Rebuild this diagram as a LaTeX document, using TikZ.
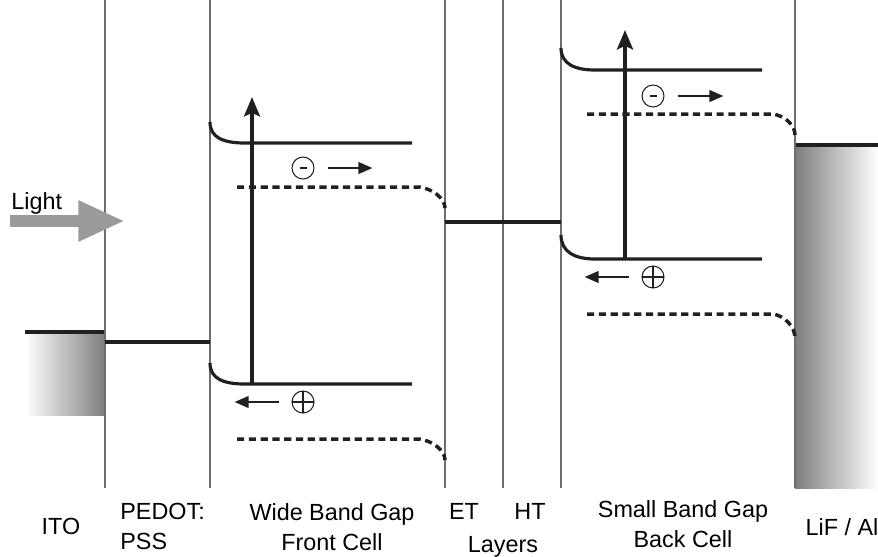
\documentclass[tikz,border=0pt]{standalone}
\usepackage{fontspec}
\setmainfont{Liberation Sans}
\usetikzlibrary{arrows.meta, positioning}
\definecolor{bandblack}{HTML}{231F20}
\definecolor{sepgray}{HTML}{6D6E71}
\definecolor{beamgray}{HTML}{9A9A9A}
\definecolor{contactgray}{HTML}{7D7E81}

\begin{document}
\begin{tikzpicture}[
    x=0.02cm, y=-0.02cm,
    sep/.style={sepgray, line width=0.6pt},
    band/.style={bandblack, line width=1.8pt},
    fermi/.style={bandblack, line width=2pt, dash pattern=on 4.1pt off 2.6pt},
    excite/.style={bandblack, line width=2.4pt, -{Stealth[length=11pt, width=9pt, inset=2pt]}},
    drift/.style={bandblack, line width=1.4pt, -{Triangle[length=8pt, width=6.5pt]}},
    carrier/.style={circle, draw=bandblack, line width=0.6pt, minimum size=0.44cm, inner sep=0pt},
    electron/.style={carrier, path picture={\draw[line width=1.2pt] ([xshift=-0.07cm]path picture bounding box.center) -- ([xshift=0.07cm]path picture bounding box.center);}},
    hole/.style={carrier, path picture={\draw[line width=0.6pt] (path picture bounding box.north) -- (path picture bounding box.south) (path picture bounding box.west) -- (path picture bounding box.east);}},
    label/.style={font=\fontsize{13.3}{17}\selectfont, inner sep=0pt, anchor=north, align=center}
]
\useasboundingbox (0,0) rectangle (878,556);

% Contacts
\shade[left color=white, right color=contactgray] (25,332) rectangle (105,415);
\shade[left color=contactgray, right color=white] (795,145) rectangle (878,488);
\draw[band] (25,332) -- (105,332);
\draw[band] (795,145) -- (878,145);

% Layer boundaries
\foreach \x in {105, 210, 445, 503, 561, 795} {
    \draw[sep] (\x,0) -- (\x,488);
}

% Light
\coordinate (lightstart) at (10,221);
\coordinate (lighttip) at (125,221);
\draw[beamgray, line width=6.8pt, -{Triangle[length=26.6pt, width=21.6pt]}] (lightstart) -- (lighttip);
\node[label, anchor=north west] (light) at (11,192) {Light};

% PEDOT:PSS and ET/HT levels
\draw[band] (105,342) -- (210,342);
\draw[band] (445,222) -- (561,222);

% Wide band gap front cell
\draw[band] (210,122) .. controls (210,138) and (224,143) .. (245,143) -- (412,143);
\draw[band] (210,363) .. controls (210,379) and (224,384) .. (245,384) -- (412,384);
\draw[fermi] (237,187) -- (420,187) .. controls (432,189) and (445,198) .. (445,208);
\draw[fermi] (237,439) -- (420,439) .. controls (432,441) and (445,450) .. (445,460);
\coordinate (fvb) at (252,384);
\coordinate (fcb) at (252,97);
\draw[excite] (fvb) -- (fcb);
\node[electron] (eF) at (303,168) {};
\node[hole] (hF) at (303,402) {};
\draw[drift] ([xshift=0.26cm]eF.east) -- ++(45,0);
\draw[drift] ([xshift=-0.24cm]hF.west) -- ++(-45,0);

% Small band gap back cell
\draw[band] (561,48) .. controls (561,64) and (575,70) .. (595,70) -- (762,70);
\draw[band] (561,235) .. controls (561,252) and (575,259) .. (595,259) -- (762,259);
\draw[fermi] (587,114) -- (773,114) .. controls (785,116) and (795,125) .. (795,135);
\draw[fermi] (587,314) -- (773,314) .. controls (785,316) and (795,327) .. (795,338);
\coordinate (bvb) at (625,259);
\coordinate (bcb) at (625,30);
\draw[excite] (bvb) -- (bcb);
\node[electron] (eB) at (653,96) {};
\node[hole] (hB) at (653,277) {};
\draw[drift] ([xshift=0.26cm]eB.east) -- ++(46,0);
\draw[drift] ([xshift=-0.24cm]hB.west) -- ++(-45,0);

% Layer labels
\node[label] (ito) at (61,518) {ITO};
\node[label, anchor=north west, align=left] (pedot) at (120,503) {PEDOT:\\PSS};
\node[label] (wide) at (332,503) {Wide Band Gap\\Front Cell};
\node[label] (et) at (464,503) {ET};
\node[label] (ht) at (530,503) {HT};
\node[label] (layers) at (503,536) {Layers};
\node[label] (small) at (683,500) {Small Band Gap\\Back Cell};
\node[label] (lifal) at (842,518) {LiF / Al};

\end{tikzpicture}
\end{document}
